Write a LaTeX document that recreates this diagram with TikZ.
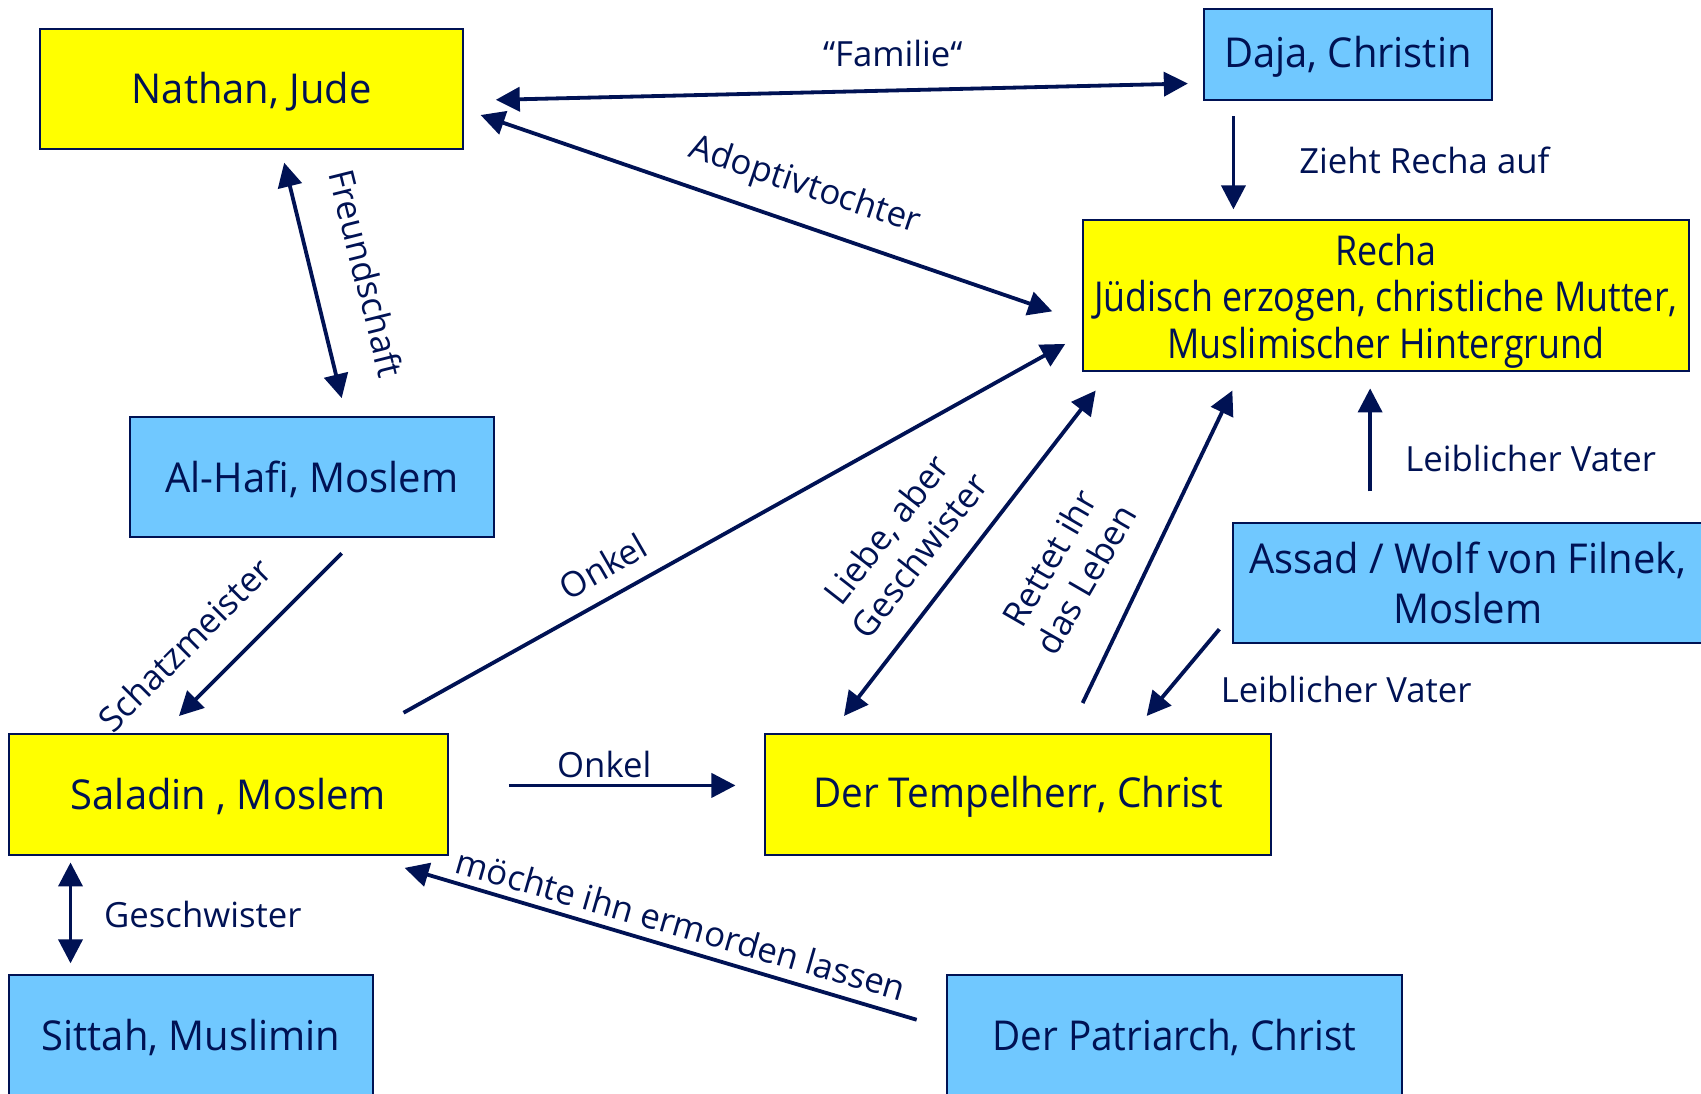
\documentclass[tikz,border=0pt]{standalone}
\usepackage{fontspec}
\setmainfont{Open Sans}
\newfontfamily\boxfont{Open Sans}[FakeStretch=0.97]
\newfontfamily\boxfontn{Open Sans}[FakeStretch=0.94]
\newfontfamily\rechafont{Open Sans}[FakeStretch=0.87]
\newcommand\lowtxt[1]{\raisebox{-0.6pt}[\height][\depth]{#1}}
\usetikzlibrary{arrows.meta}
\definecolor{navy}{RGB}{0,18,84}
\definecolor{yel}{RGB}{255,255,0}
\definecolor{blu}{RGB}{112,200,255}
\begin{document}
\begin{tikzpicture}[x=0.1mm,y=-0.1mm,
  box/.style={draw=navy, line width=0.5pt, text=navy, inner sep=0pt, align=center,
    font=\boxfont\fontsize{10.8}{12.1}\selectfont},
  ybx/.style={box, fill=yel},
  bbx/.style={box, fill=blu},
  conn/.style={draw=navy, line width=1pt},
  tipe/.style={-{Triangle[length=6.3pt,width=6.3pt]}},
  tipb/.style={{Triangle[length=6.3pt,width=6.3pt]}-{Triangle[length=6.3pt,width=6.3pt]}},
  lbl/.style={text=navy, inner sep=0pt, align=center, font=\fontsize{9.1}{11}\selectfont}]
\useasboundingbox (0,0) rectangle (1568,1008);
% boxes
\node[ybx, minimum width=39mm, minimum height=11mm] (nathan) at (232,82) {\lowtxt{Nathan, Jude}};
\node[bbx, minimum width=26.5mm, minimum height=8.4mm] (daja) at (1242.5,50) {\lowtxt{Daja, Christin}};
\node[ybx, minimum width=55.9mm, minimum height=13.9mm, font=\rechafont\fontsize{10.8}{12.2}\selectfont] (recha) at (1277.5,272.5)
  {\rule{0pt}{11pt}Recha\\Jüdisch erzogen, christliche Mutter,\\Muslimischer Hintergrund};
\node[bbx, minimum width=33.5mm, minimum height=11.1mm] (alhafi) at (287.5,439.5) {\lowtxt{Al-Hafi, Moslem}};
\node[bbx, minimum width=43.2mm, minimum height=11.1mm, font=\boxfont\fontsize{10.8}{13.1}\selectfont] (assad) at (1353,537.5)
  {Assad / Wolf von Filnek,\\Moslem};
\node[ybx, minimum width=40.5mm, minimum height=11.1mm] (saladin) at (210.5,732.5) {\lowtxt{Saladin , Moslem}};
\node[ybx, minimum width=46.7mm, minimum height=11.1mm, font=\boxfontn\fontsize{10.8}{12.1}\selectfont] (tempel) at (938.5,732.5) {\lowtxt{Der Tempelherr, Christ}};
\node[bbx, minimum width=33.6mm, minimum height=11.1mm] (sittah) at (176,954.5) {\lowtxt{Sittah, Muslimin}};
\node[bbx, minimum width=41.9mm, minimum height=11.1mm, font=\boxfontn\fontsize{10.8}{12.1}\selectfont] (patri) at (1082.5,954.5) {\lowtxt{Der Patriarch, Christ}};
% connector ends
\coordinate (nf) at (457,92);   \coordinate (df) at (1095,77);
\coordinate (na) at (443,106);  \coordinate (ra) at (970,287);
\coordinate (nh) at (262,150);  \coordinate (hn) at (315,367);
\coordinate (dz) at (1137,107); \coordinate (rz) at (1137,193);
\coordinate (hs) at (315,510);  \coordinate (sh) at (165,660);
\coordinate (so) at (372,657);  \coordinate (ro) at (982,317);
\coordinate (st) at (469,724);  \coordinate (ts) at (678,724);
\coordinate (tl) at (778,660);  \coordinate (rl) at (1010,360);
\coordinate (tr) at (998,648);  \coordinate (rr) at (1136,360);
\coordinate (at) at (1124,580); \coordinate (ta) at (1057,660);
\coordinate (ar) at (1263,453); \coordinate (ra2) at (1263,358);
\coordinate (ss) at (65,795);   \coordinate (si) at (65,888);
\coordinate (ps) at (845,940);  \coordinate (sp) at (373,800);
% connectors
\draw[conn, tipb] (nf) -- (df);
\draw[conn, tipb] (na) -- (ra);
\draw[conn, tipb] (nh) -- (hn);
\draw[conn, tipe] (dz) -- (rz);
\draw[conn, tipe] (hs) -- (sh);
\draw[conn, tipe] (so) -- (ro);
\draw[conn, tipe] (st) -- (ts);
\draw[conn, tipb] (tl) -- (rl);
\draw[conn, tipe] (tr) -- (rr);
\draw[conn, tipe] (at) -- (ta);
\draw[conn, tipe] (ar) -- (ra2);
\draw[conn, tipb] (ss) -- (si);
\draw[conn, tipe] (ps) -- (sp);
% labels
\node[lbl] (lfam) at (823,49) {“Familie“};
\node[lbl, rotate=-18.5] (ladopt) at (742,172) {Adoptivtochter};
\node[lbl, rotate=-76] (lfreund) at (338,252) {Freundschaft};
\node[lbl] (lzieht) at (1313,148) {Zieht Recha auf};
\node[lbl, rotate=45] (lschatz) at (170,594) {Schatzmeister};
\node[lbl, rotate=30] (lonkel1) at (556,522) {Onkel};
\node[lbl] (lonkel2) at (557,705) {Onkel};
\node[lbl, rotate=52] (lliebe) at (832,500) {Liebe, aber\\Geschwister};
\node[lbl, rotate=60] (lrettet) at (984,524) {Rettet ihr\\das Leben};
\node[lbl] (lvater1) at (1411,423) {Leiblicher Vater};
\node[lbl] (lvater2) at (1241,636) {Leiblicher Vater};
\node[lbl] (lgesch) at (187,843) {Geschwister};
\node[lbl, rotate=-16] (lmord) at (628,852) {möchte ihn ermorden lassen};
\end{tikzpicture}
\end{document}
